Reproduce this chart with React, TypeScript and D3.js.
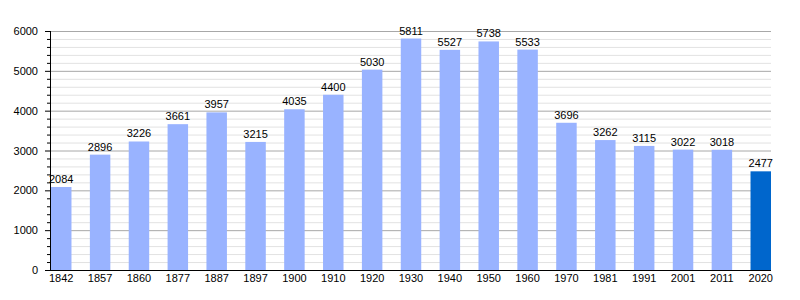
import React from "react";
import * as d3 from "d3";

const years = ["1842","1857","1860","1877","1887","1897","1900","1910","1920","1930","1940","1950","1960","1970","1981","1991","2001","2011","2020"];
const population = [2084,2896,3226,3661,3957,3215,4035,4400,5030,5811,5527,5738,5533,3696,3262,3115,3022,3018,2477];
const majorTicks = [0,1000,2000,3000,4000,5000,6000];
const minorTicks = d3.range(0, 6001, 200).filter((v) => v % 1000 !== 0);

const W = 800, H = 300;
const left = 50, right = 771, top = 31, bottom = 270;

export default function App() {
  const x = d3.scaleBand<string>().domain(years).range([left + 1, right]).paddingInner(0.473).paddingOuter(0).align(0);
  const y = d3.scaleLinear().domain([0, 6000]).range([bottom, top]);
  const font = "'Liberation Sans', Arial, sans-serif";
  return (
    <svg width={W} height={H} style={{ position: "absolute", left: 0, top: 0, background: "#fff" }} fontFamily={font}>
      {minorTicks.map((v) => (
        <g key={"m" + v}>
          <line x1={left} x2={right} y1={y(v) + 0.5} y2={y(v) + 0.5} stroke="#e2e2e2" />
          <line x1={left - 3} x2={left} y1={y(v) + 0.5} y2={y(v) + 0.5} stroke="#000" />
        </g>
      ))}
      {majorTicks.map((v) => (
        <g key={"M" + v}>
          {v > 0 && <line x1={left} x2={right} y1={y(v) + 0.5} y2={y(v) + 0.5} stroke="#a8a8a8" />}
          <line x1={left - 5} x2={left} y1={y(v) + 0.5} y2={y(v) + 0.5} stroke="#000" />
          <text x={38} y={y(v) + 4} textAnchor="end" fontSize={11} fill="#000">{v}</text>
        </g>
      ))}
      {years.map((yr, i) => (
        <g key={yr}>
          <rect x={x(yr)} y={y(population[i])} width={x.bandwidth()} height={bottom - y(population[i])}
            fill={i === years.length - 1 ? "#0066cc" : "#99b3ff"} />
          <text x={(x(yr) as number) + x.bandwidth() / 2} y={y(population[i]) - 4} textAnchor="middle" fontSize={11} fill="#000">{population[i]}</text>
          <text x={(x(yr) as number) + x.bandwidth() / 2} y={282} textAnchor="middle" fontSize={11} fill="#000">{yr}</text>
        </g>
      ))}
      <line x1={left + 0.5} x2={left + 0.5} y1={top} y2={bottom + 1} stroke="#000" />
      <line x1={left} x2={right} y1={bottom + 0.5} y2={bottom + 0.5} stroke="#000" />
    </svg>
  );
}
